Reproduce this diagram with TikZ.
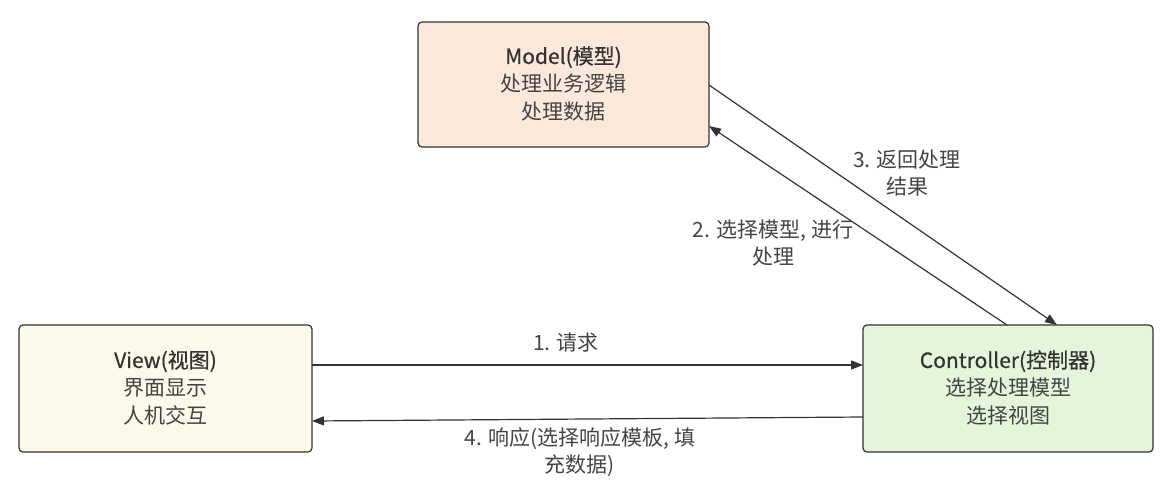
\documentclass[tikz,border=0pt]{standalone}
\usepackage{fontspec}
\setmainfont{Noto Sans CJK SC}
\newfontfamily\headfont{Noto Sans CJK SC}[FakeBold=0.6]
\usetikzlibrary{arrows.meta}
\definecolor{edgegray}{HTML}{333333}
\definecolor{textgray}{HTML}{444444}
\definecolor{modelfill}{HTML}{FCE9DB}
\definecolor{viewfill}{HTML}{FCF8EA}
\definecolor{ctrlfill}{HTML}{E5F5DC}
\tikzset{
  box/.style={draw=edgegray, line width=1.2pt, rounded corners=4pt, inner sep=0pt},
  boxtext/.style={align=center, text=textgray, font=\fontsize{21}{28}\selectfont},
  flow/.style={draw=edgegray, line width=1.2pt, -{Triangle[length=12pt,width=9pt]}},
  tag/.style={align=center, text=textgray, font=\fontsize{21}{27}\selectfont}
}
\newcommand{\headline}[1]{{\headfont\color{edgegray}#1}}
\begin{document}
\begin{tikzpicture}[x=1pt,y=-1pt]
\useasboundingbox (0,0) rectangle (1167,493);
% boxes
\draw[box, fill=modelfill] (418,22) rectangle (709,147);
\draw[box, fill=viewfill] (19,325) rectangle (312,452);
\draw[box, fill=ctrlfill] (863,325) rectangle (1153,452);
\node[boxtext] (model) at (563.5,84) {\headline{Model(模型)}\\处理业务逻辑\\处理数据};
\node[boxtext] (view) at (165.5,388) {\headline{View(视图)}\\界面显示\\人机交互};
\node[boxtext] (ctrl) at (1008,388) {\headline{Controller(控制器)}\\选择处理模型\\选择视图};
% connector end points on the box borders
\coordinate (viewR1) at (312,365);
\coordinate (ctrlL1) at (863,365);
\coordinate (ctrlL4) at (863,417);
\coordinate (viewR4) at (312,421);
\coordinate (ctrlT2) at (1007,325);
\coordinate (modelR2) at (709,126);
\coordinate (modelR3) at (709,85);
\coordinate (ctrlT3) at (1057,325);
% connectors
\draw[flow] (viewR1) -- (ctrlL1);
\draw[flow] (ctrlL4) -- (viewR4);
\draw[flow] (ctrlT2) -- (modelR2);
\draw[flow] (modelR3) -- (ctrlT3);
% labels
\node[tag] (l1) at (566,343) {1. 请求};
\node[tag] (l4) at (580,452) {4. 响应(选择响应模板, 填\\充数据)};
\node[tag] (l3) at (907,173) {3. 返回处理\\结果};
\node[tag] (l2) at (773,243) {2. 选择模型, 进行\\处理};
\end{tikzpicture}
\end{document}
